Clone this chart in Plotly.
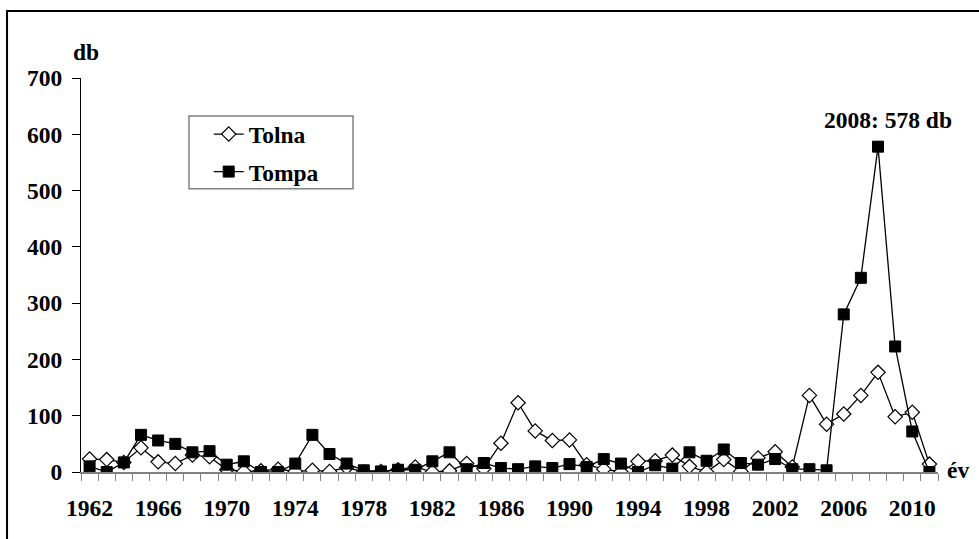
import plotly.graph_objects as go

years = list(range(1962, 2012))
tolna = [23, 22, 17, 43, 18, 15, 30, 27, 4, 1,
         2, 5, 1, 3, 1, 8, 0, 1, 4, 9,
         0, 2, 15, 6, 51, 123, 73, 56, 57, 13,
         5, 0, 19, 20, 30, 10, 0, 22, 1, 25,
         36, 9, 136, 85, 103, 136, 177, 98, 106, 14]
tompa = [10, 0, 17, 66, 56, 50, 35, 37, 13, 19,
         0, 0, 15, 66, 32, 15, 3, 1, 4, 4,
         19, 35, 5, 16, 7, 5, 10, 7, 14, 9,
         23, 15, 0, 12, 6, 35, 20, 40, 16, 13,
         23, 5, 5, 3, 280, 345, 578, 223, 72, 0]
xtick_years = list(range(1962, 2012, 4))
ytick_vals = [0, 100, 200, 300, 400, 500, 600, 700]
peak_label = "2008: 578 db"

FONT = "Liberation Serif"
FS = 23.5
fig = go.Figure()
fig.add_trace(go.Scatter(
    x=years, y=tolna, name="<b>Tolna</b>", mode="lines+markers", legendgroup="a",
    line=dict(color="black", width=1.3),
    marker=dict(symbol="diamond", size=11, color="white", line=dict(color="black", width=1.2)),
))
fig.add_trace(go.Scatter(
    x=years, y=tompa, name="<b>Tompa</b>", mode="lines+markers", legendgroup="b",
    line=dict(color="black", width=1.3),
    marker=dict(symbol="square", size=11, color="black", line=dict(color="black", width=1)),
))

fig.update_layout(
    width=979, height=539,
    margin=dict(l=81, r=41, t=78, b=66.5),
    paper_bgcolor="white", plot_bgcolor="white",
    font=dict(family=FONT, size=FS, color="black"),
    showlegend=True,
    legend=dict(x=0.149, y=0.913, xanchor="left", yanchor="top",
                borderwidth=0, bgcolor="rgba(0,0,0,0)",
                font=dict(family=FONT, size=FS), tracegroupgap=4,
                traceorder="grouped"),
)
fig.update_xaxes(
    range=[1961.5, 2011.5], showgrid=False, zeroline=False,
    showline=True, linecolor="#808080", linewidth=1.5,
    tickmode="array", tickvals=xtick_years,
    ticktext=[f"<b>{y}</b>" for y in xtick_years],
    ticks="", ticklabelstandoff=14,
    minor=dict(tick0=1961.5, dtick=1, ticks="outside", ticklen=7,
               tickcolor="#808080", tickwidth=1.2, showgrid=False),
)
fig.update_yaxes(
    range=[0, 700], showgrid=False, zeroline=False,
    showline=True, linecolor="black", linewidth=1.2,
    tickmode="array", tickvals=ytick_vals,
    ticktext=[f"<b>{v}</b>" for v in ytick_vals],
    ticks="outside", ticklen=8, tickcolor="black", tickwidth=1.2,
    ticklabelstandoff=5,
)
fig.add_annotation(x=2008, y=578, xref="x", yref="y", text=f"<b>{peak_label}</b>",
                   showarrow=False, yanchor="bottom", xshift=10, yshift=12,
                   font=dict(family=FONT, size=FS))
fig.add_annotation(x=0.006, y=1.066, xref="paper", yref="paper", text="<b>db</b>",
                   showarrow=False, xanchor="center", yanchor="middle",
                   font=dict(family=FONT, size=FS))
fig.add_annotation(x=1.023, y=0.006, xref="paper", yref="paper", text="<b>év</b>",
                   showarrow=False, xanchor="center", yanchor="middle",
                   font=dict(family=FONT, size=FS))
# legend box
fig.add_shape(type="rect", xref="paper", yref="paper",
              x0=0.126, y0=0.7186, x1=0.3174, y1=0.9037,
              line=dict(color="#808080", width=1.5), fillcolor="white", layer="below")
# outer frame (top and left visible)
fig.add_shape(type="rect", xref="paper", yref="paper",
              x0=-0.0863, y0=-0.2, x1=1.1, y1=1.1698,
              line=dict(color="black", width=2), layer="below")

fig.write_html("out.html", config={"displayModeBar": False},
               post_script="document.body.style.margin='0';")
